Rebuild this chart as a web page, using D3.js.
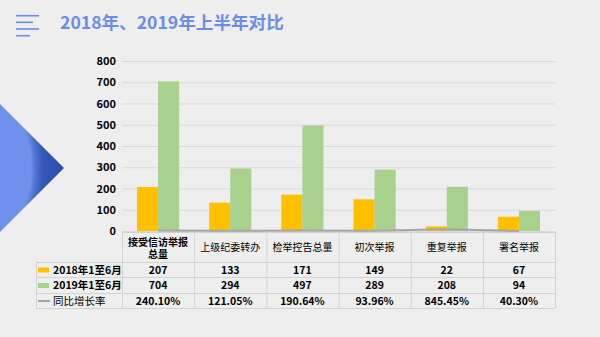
<!DOCTYPE html>
<html><head><meta charset="utf-8">
<script src="https://cdn.jsdelivr.net/npm/d3@7"></script>
<style>
html,body{margin:0;padding:0;background:#eeeeee;}
svg{display:block;font-family:"Noto Sans CJK SC","Noto Sans",sans-serif;}
</style></head>
<body>
<svg id="c" width="600" height="337"></svg>
<script>
const title = "2018年、2019年上半年对比";
const categories = ["接受信访举报总量","上级纪委转办","检举控告总量","初次举报","重复举报","署名举报"];
const seriesNames = ["2018年1至6月","2019年1至6月","同比增长率"];
const values2018 = [207,133,171,149,22,67];
const values2019 = [704,294,497,289,208,94];
const growthRate = [2.4010,1.2105,1.9064,0.9396,8.4545,0.4030];
const growthLabels = ["240.10%","121.05%","190.64%","93.96%","845.45%","40.30%"];
const yTicks = [0,100,200,300,400,500,600,700,800];
const colors = ["#ffc000","#a9d18e","#a5a5a5"];

(function(){
const svg = d3.select("#c");
const defs = svg.append("defs");

// decorative triangle with radial gradient
const rg = defs.append("radialGradient").attr("id","tri").attr("gradientUnits","userSpaceOnUse")
  .attr("cx",-90).attr("cy",168).attr("r",155);
rg.append("stop").attr("offset","0").attr("stop-color","#7494f0");
rg.append("stop").attr("offset","0.74").attr("stop-color","#6f8fec");
rg.append("stop").attr("offset","0.78").attr("stop-color","#7090ea");
rg.append("stop").attr("offset","0.81").attr("stop-color","#5274d6");
rg.append("stop").attr("offset","0.86").attr("stop-color","#3457b8");
rg.append("stop").attr("offset","1").attr("stop-color","#2c4fad");
svg.append("path").attr("d","M0,104 L64,168 L0,232 Z").attr("fill","url(#tri)");

// menu icon
const menu = [[15.7,23],[22.3,17],[29,23],[35.7,14]];
svg.append("g").selectAll("line").data(menu).join("line")
  .attr("x1",16).attr("x2",d=>16+d[1]).attr("y1",d=>d[0]).attr("y2",d=>d[0])
  .attr("stroke","#6a8be8").attr("stroke-width",1.6);

svg.append("text").attr("x",60).attr("y",29).text(title)
  .attr("font-size",17.6).attr("font-weight","bold").attr("fill","#6b8de6");

// scales
const pLeft = 122, pRight = 555, pTop = 61, pBottom = 231;
const x = d3.scaleBand().domain(categories).range([pLeft,pRight]).paddingInner(0).paddingOuter(0);
const xs = d3.scaleBand().domain([0,1]).range([0,x.bandwidth()]).paddingInner(0).paddingOuter(0.71);
const y = d3.scaleLinear().domain([0,800]).range([pBottom,pTop]);

// grid
svg.append("g").attr("transform",`translate(${pLeft},0)`)
  .call(d3.axisLeft(y).tickValues(yTicks).tickSize(-(pRight-pLeft)).tickFormat(""))
  .call(g=>g.select(".domain").remove())
  .call(g=>g.selectAll("line").attr("stroke","#d9d9d9").attr("stroke-width",1));

// y axis labels
svg.append("g").attr("transform",`translate(${pLeft-6},0)`)
  .call(d3.axisLeft(y).tickValues(yTicks).tickSize(0).tickPadding(0))
  .call(g=>g.select(".domain").remove())
  .call(g=>g.selectAll("text").attr("font-size",11).attr("font-weight","bold").attr("fill","#000")
     .attr("font-family","'Noto Sans CJK SC',sans-serif"));

// bars
const series = [values2018, values2019];
series.forEach((vals,si)=>{
  svg.append("g").selectAll("rect").data(vals).join("rect")
    .attr("x",(d,i)=>x(categories[i])+xs(si))
    .attr("width",xs.bandwidth())
    .attr("y",d=>y(d)).attr("height",d=>y(0)-y(d))
    .attr("fill",colors[si]);
});

// growth line
const line = d3.line().x((d,i)=>x(categories[i])+x.bandwidth()/2).y(d=>y(d));
svg.append("path").datum(growthRate).attr("d",line).attr("fill","none")
  .attr("stroke",colors[2]).attr("stroke-width",2);

// table
const tLeft = 36, hTop = 232, hBot = 262;
const rowBottoms = [277,293,308];
const gridColor = "#d2d2d2";
const tg = svg.append("g");
tg.append("line").attr("x1",pLeft).attr("x2",pRight).attr("y1",hTop+0.5).attr("y2",hTop+0.5).attr("stroke",gridColor);
[hBot,...rowBottoms].forEach(yy=>{
  tg.append("line").attr("x1",tLeft).attr("x2",pRight).attr("y1",yy+0.5).attr("y2",yy+0.5).attr("stroke",gridColor);
});
tg.append("line").attr("x1",tLeft+0.5).attr("x2",tLeft+0.5).attr("y1",hBot).attr("y2",rowBottoms[2]).attr("stroke",gridColor);
const vx = categories.map(c=>x(c)).concat([pRight]);
vx.forEach(xx=>{
  tg.append("line").attr("x1",xx+0.5).attr("x2",xx+0.5).attr("y1",hTop).attr("y2",rowBottoms[2]).attr("stroke",gridColor);
});

// header labels with wrapping
categories.forEach(c=>{
  const cx = x(c)+x.bandwidth()/2;
  const t = tg.append("text").attr("x",cx).attr("text-anchor","middle")
    .attr("font-size",10).attr("fill","#000").text(c);
  const maxW = x.bandwidth()-6;
  if (t.node().getComputedTextLength() > maxW) {
    t.attr("font-weight","bold");
    const chars = c.split("");
    let l1 = "";
    for (let k=0;k<chars.length;k++){
      t.text(l1+chars[k]);
      if (t.node().getComputedTextLength() > maxW) break;
      l1 += chars[k];
    }
    const l2 = c.slice(l1.length);
    t.text(null);
    t.append("tspan").attr("x",cx).attr("y",246).text(l1);
    t.append("tspan").attr("x",cx).attr("y",257.5).text(l2);
  } else {
    t.attr("y",251);
  }
});

// rows
const rowData = [values2018.map(String), values2019.map(String), growthLabels];
const rowTops = [hBot, rowBottoms[0], rowBottoms[1]];
rowData.forEach((row,ri)=>{
  const mid = (rowTops[ri]+rowBottoms[ri])/2 + 0.5;
  const cy = mid + 3.8;
  row.forEach((v,i)=>{
    tg.append("text").attr("x",x(categories[i])+x.bandwidth()/2).attr("y",cy)
      .attr("text-anchor","middle").attr("font-size",10.5).attr("font-weight","bold").text(v);
  });
  if (ri<2) {
    tg.append("rect").attr("x",38).attr("y",mid-2.5).attr("width",11).attr("height",5).attr("fill",colors[ri]);
  } else {
    tg.append("line").attr("x1",38).attr("x2",50).attr("y1",mid).attr("y2",mid)
      .attr("stroke",colors[2]).attr("stroke-width",2);
  }
  tg.append("text").attr("x",53).attr("y",cy).attr("font-size",10.5)
    .attr("font-weight", ri<2 ? "bold" : "normal").text(seriesNames[ri]);
});
})();
</script>
</body></html>
